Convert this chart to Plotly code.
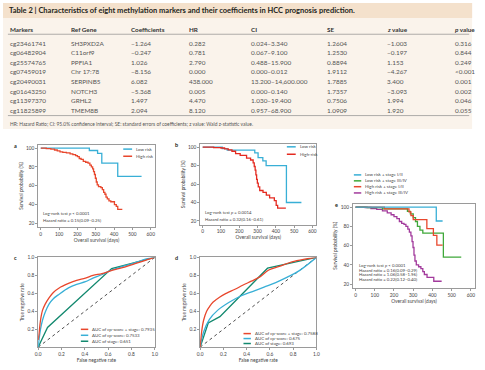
import plotly.graph_objects as go

W, H = 485, 370

# ---------------- Table data ----------------
table_title = "Table 2 | Characteristics of eight methylation markers and their coefficients in HCC prognosis prediction."
headers = ["Markers", "Ref Gene", "Coefficients", "HR", "CI", "SE", "<i>z</i> value", "<i>p</i> value"]
markers = ["cg23461741", "cg06482904", "cg25574765", "cg07459019", "cg20490031", "cg01643250", "cg11397370", "cg11825899"]
ref_genes = ["SH3PXD2A", "C11orf9", "PPFIA1", "Chr 17:78", "SERPINB5", "NOTCH3", "GRHL2", "TMEM8B"]
coefficients = ["−1.264", "−0.247", "1.026", "−8.156", "6.082", "−5.368", "1.497", "2.094"]
hazard_ratios = ["0.282", "0.781", "2.790", "0.000", "438.000", "0.005", "4.470", "8.120"]
conf_intervals = ["0.024–3.340", "0.067–9.100", "0.488–15.900", "0.000–0.012", "13.200–14,600.000", "0.000–0.140", "1.030–19.400", "0.957–68.900"]
std_errors = ["1.2604", "1.2530", "0.8894", "1.9112", "1.7885", "1.7357", "0.7506", "1.0909"]
z_values = ["−1.003", "−0.197", "1.153", "−4.267", "3.400", "−3.093", "1.994", "1.920"]
p_values = ["0.316", "0.844", "0.249", "&lt;0.001", "0.001", "0.002", "0.046", "0.055"]
footnote = "HR: Hazard Ratio; CI: 95.0% confidence interval; SE: standard errors of coefficients; z value: Wald z-statistic value."

# ---------------- Kaplan-Meier data (days, survival %) ----------------
a_low_t = [0, 265, 310, 333, 420, 550]
a_low_s = [100, 97.5, 94.5, 84, 70, 70]
a_high_t = [0, 30, 55, 75, 90, 105, 120, 140, 160, 175, 190, 200, 210, 220, 232, 245, 258, 268, 276, 283,
            288, 293, 298, 303, 308, 315, 328, 336, 343, 350, 356, 363, 372, 382, 402, 412, 420, 445]
a_high_s = [100, 99.5, 99, 98, 97, 96, 95.5, 95, 94, 93, 92, 91, 89, 88, 86, 85, 84, 82, 80, 78,
            75, 72, 68, 64, 61, 59, 58, 56, 53, 51, 48, 46, 44, 43, 40, 38, 35, 35]

b_low_t = [0, 107, 134, 285, 303, 329, 347, 458, 540]
b_low_s = [100, 98.3, 96.6, 93.8, 88.6, 85, 80, 40, 40]
b_high_t = [0, 60, 100, 120, 140, 160, 180, 205, 240, 262, 276, 282, 287, 291, 295, 299, 304, 312,
            330, 348, 366, 392, 402, 410, 455]
b_high_s = [100, 99.5, 99, 98, 97, 95.5, 93, 91, 88, 86, 83, 79, 75, 70, 65, 61, 57, 53,
            51, 48, 45, 42, 37, 34, 34]

e_low12_t = [0, 420, 453]
e_low12_s = [100, 85.5, 85.5]
e_low34_t = [0, 60, 140, 270, 285, 300, 312, 322, 335, 350, 457, 550]
e_low34_s = [100, 99.3, 98, 95.5, 93, 89, 85, 80, 76, 73, 48, 48]
e_high12_t = [0, 150, 278, 288, 300, 371, 405, 423, 453]
e_high12_s = [100, 98, 95, 91, 87, 77.5, 70.5, 60.5, 60.5]
e_high34_t = [0, 50, 80, 110, 140, 165, 185, 200, 215, 228, 240, 252, 262, 272, 280, 288, 294, 299,
              304, 309, 316, 328, 340, 350, 358, 372, 407, 448]
e_high34_s = [100, 99.5, 98.5, 97.5, 96, 94, 92, 90, 88, 85, 83, 82, 80, 77, 74, 70, 64, 58,
              50, 44, 40, 38, 36, 33, 30, 27, 23, 23]

# ---------------- ROC data ----------------
c_comb_x = [0, 0.008, 0.02, 0.037, 0.06, 0.093, 0.13, 0.18, 0.26, 0.33, 0.405, 0.47, 0.547, 0.62, 0.69, 0.76, 0.83, 0.9, 0.95, 1.0]
c_comb_y = [0.08, 0.16, 0.3, 0.41, 0.48, 0.55, 0.61, 0.66, 0.71, 0.745, 0.77, 0.8, 0.82, 0.85, 0.875, 0.9, 0.93, 0.96, 0.98, 1.0]
c_cp_x = [0, 0.008, 0.02, 0.037, 0.06, 0.093, 0.13, 0.18, 0.26, 0.33, 0.405, 0.47, 0.55, 0.63, 0.7, 0.78, 0.85, 0.92, 1.0]
c_cp_y = [0, 0.09, 0.2, 0.3, 0.39, 0.48, 0.54, 0.59, 0.66, 0.7, 0.73, 0.77, 0.81, 0.86, 0.89, 0.92, 0.95, 0.98, 1.0]
c_stage_x = [0, 0.08, 0.63, 1.0]
c_stage_y = [0, 0.22, 0.875, 1.0]

d_comb_x = [0, 0.014, 0.03, 0.056, 0.08, 0.11, 0.17, 0.225, 0.3, 0.366, 0.44, 0.51, 0.59, 0.68, 0.79, 0.9, 1.0]
d_comb_y = [0, 0.18, 0.3, 0.4, 0.45, 0.5, 0.56, 0.6, 0.645, 0.69, 0.735, 0.78, 0.86, 0.9, 0.95, 0.98, 1.0]
d_cp_x = [0, 0.03, 0.08, 0.15, 0.25, 0.35, 0.45, 0.55, 0.65, 0.75, 0.85, 1.0]
d_cp_y = [0, 0.17, 0.31, 0.41, 0.5, 0.57, 0.62, 0.67, 0.72, 0.78, 0.85, 1.0]
d_stage_x = [0, 0.07, 0.17, 0.58, 1.0]
d_stage_y = [0, 0.27, 0.34, 0.88, 1.0]

diag = [0, 1]

km_ticks = [20, 40, 60, 80, 100]
day_ticks = [0, 100, 200, 300, 400, 500, 600]
roc_x_ticks = [0, 0.2, 0.4, 0.6, 0.8, 1.0]
roc_y_ticks = [0.2, 0.4, 0.6, 0.8, 1.0]

# ---------------- styling ----------------
FONT = "Lato"
BLUE = "#38afd6"
RED_A = "#e8472d"
RED_B = "#e42a20"
GREEN = "#3fa83a"
PURPLE = "#a23a9c"
TEAL = "#13896f"
FRAME = "#9a9a9a"
TXT = "#444444"


def px_x(px):
    return px / W


def px_y(py):
    return 1 - py / H


fig = go.Figure()


def add_line(x, y, color, axis, shape="linear", width=1.3, dash="solid"):
    fig.add_trace(go.Scatter(x=x, y=y, mode="lines", line=dict(color=color, width=width, shape=shape, dash=dash),
                             xaxis="x" + axis, yaxis="y" + axis, showlegend=False, hoverinfo="skip"))


# panel a
add_line(a_low_t, a_low_s, BLUE, "", "hv")
add_line(a_high_t, a_high_s, RED_A, "", "hv")
# panel b
add_line(b_low_t, b_low_s, BLUE, "2", "hv")
add_line(b_high_t, b_high_s, RED_B, "2", "hv")
# panel e
add_line(e_high34_t, e_high34_s, PURPLE, "3", "hv")
add_line(e_low34_t, e_low34_s, GREEN, "3", "hv")
add_line(e_high12_t, e_high12_s, RED_A, "3", "hv")
add_line(e_low12_t, e_low12_s, BLUE, "3", "hv")
# panel c
add_line(diag, diag, "#222222", "4", width=0.8, dash="dot")
add_line(c_stage_x, c_stage_y, TEAL, "4")
add_line(c_cp_x, c_cp_y, BLUE, "4", "spline")
add_line(c_comb_x, c_comb_y, RED_A, "4", "spline")
# panel d
add_line(diag, diag, "#222222", "5", width=0.8, dash="dot")
add_line(d_stage_x, d_stage_y, TEAL, "5")
add_line(d_cp_x, d_cp_y, BLUE, "5", "spline")
add_line(d_comb_x, d_comb_y, RED_A, "5", "spline")

tickfont = dict(family=FONT, size=4.8, color=TXT)
titlefont = dict(family=FONT, size=4.8, color=TXT)


def axis_common(**kw):
    d = dict(showline=True, mirror=True, linecolor=FRAME, linewidth=0.8, ticks="outside", ticklen=2,
             tickcolor=FRAME, tickwidth=0.6, showgrid=False, zeroline=False, tickfont=tickfont)
    d.update(kw)
    return d


layout = dict(
    width=W, height=H, margin=dict(l=0, r=0, t=0, b=0),
    paper_bgcolor="white", plot_bgcolor="white", showlegend=False,
    font=dict(family=FONT, color=TXT),
)

# KM axes
km_panels = [("", (35.7, 154), (143, 226)), ("2", (200, 318), (142, 223.5)), ("3", (355, 479), (202.3, 287.3))]
for ax, (x0, x1), (y0, y1) in km_panels:
    layout["xaxis" + ax] = axis_common(domain=[px_x(x0), px_x(x1)], range=[-14, 622], tickvals=day_ticks,
                                      title=dict(text="Overall survival (days)", font=titlefont, standoff=2),
                                      anchor="y" + ax)
    layout["yaxis" + ax] = axis_common(domain=[px_y(y1), px_y(y0)], range=[16, 103.5], tickvals=km_ticks,
                                      title=dict(text="Survival probability (%)", font=titlefont, standoff=2),
                                      anchor="x" + ax)

# ROC axes
roc_panels = [("4", (35.7, 154), (256.5, 347)), ("5", (200, 318), (256.5, 347))]
for ax, (x0, x1), (y0, y1) in roc_panels:
    layout["xaxis" + ax] = axis_common(domain=[px_x(x0), px_x(x1)], range=[0, 1], tickvals=roc_x_ticks,
                                      tickformat=".1f",
                                      title=dict(text="False negative rate", font=titlefont, standoff=2),
                                      anchor="y" + ax)
    layout["yaxis" + ax] = axis_common(domain=[px_y(y1), px_y(y0)], range=[0, 1], tickvals=roc_y_ticks,
                                      tickformat=".1f",
                                      title=dict(text="True negative rate", font=titlefont, standoff=2),
                                      anchor="x" + ax)

fig.update_layout(**layout)

shapes = []
annots = []

# ---------------- table ----------------
shapes.append(dict(type="rect", xref="paper", yref="paper", x0=0, x1=px_x(476), y0=px_y(127), y1=px_y(0),
                   fillcolor="#faf3eb", line=dict(width=0), layer="below"))
shapes.append(dict(type="rect", xref="paper", yref="paper", x0=0, x1=px_x(476), y0=px_y(15), y1=px_y(0),
                   fillcolor="#f4e1cc", line=dict(width=0), layer="below"))
for yy in (31.5, 113.5):
    shapes.append(dict(type="line", xref="paper", yref="paper", x0=px_x(5), x1=px_x(473), y0=px_y(yy), y1=px_y(yy),
                       line=dict(color="#8c8c8c", width=0.7)))

annots.append(dict(text="<b>" + table_title + "</b>", x=px_x(4), y=px_y(7.5), xref="paper", yref="paper",
                   xanchor="left", yanchor="middle", showarrow=False,
                   font=dict(family=FONT, size=7.5, color="#231f20")))
col_x = [5, 67, 128, 187, 250, 327, 388, 457]
for cx, h in zip(col_x, headers):
    annots.append(dict(text="<b>" + h + "</b>", x=px_x(cx), y=px_y(26.5), xref="paper", yref="paper",
                       xanchor="left", yanchor="middle", showarrow=False,
                       font=dict(family=FONT, size=6.3, color="#333333")))
columns = [markers, ref_genes, coefficients, hazard_ratios, conf_intervals, std_errors, z_values, p_values]
row_y0, row_dy = 40.5, 9.65
for ci_, (cx, col) in enumerate(zip(col_x, columns)):
    for ri, val in enumerate(col):
        annots.append(dict(text=val, x=px_x(cx), y=px_y(row_y0 + ri * row_dy), xref="paper", yref="paper",
                           xanchor="left", yanchor="middle", showarrow=False,
                           font=dict(family=FONT, size=6.4, color="#555555")))
annots.append(dict(text=footnote, x=px_x(5), y=px_y(121.5), xref="paper", yref="paper", xanchor="left",
                   yanchor="middle", showarrow=False, font=dict(family=FONT, size=4.9, color="#555555")))

# ---------------- panel labels ----------------
for lab, lx, ly in [("a", 13, 144), ("b", 176, 143), ("e", 338, 204), ("c", 13, 257), ("d", 176, 257)]:
    annots.append(dict(text="<b>" + lab + "</b>", x=px_x(lx), y=px_y(ly), xref="paper", yref="paper",
                       xanchor="center", yanchor="middle", showarrow=False,
                       font=dict(family=FONT, size=5.5, color="#231f20")))

# ---------------- legends (keys + text) ----------------
legend_font = dict(family=FONT, size=4.4, color=TXT)


def legend_entry(kx0, kx1, ky, color, text):
    shapes.append(dict(type="line", xref="paper", yref="paper", x0=px_x(kx0), x1=px_x(kx1), y0=px_y(ky), y1=px_y(ky),
                       line=dict(color=color, width=1.5)))
    annots.append(dict(text=text, x=px_x(kx1 + 2), y=px_y(ky), xref="paper", yref="paper", xanchor="left",
                       yanchor="middle", showarrow=False, font=legend_font))


legend_entry(122, 131, 147.3, BLUE, "Low risk")
legend_entry(122, 131, 154.5, RED_A, "High risk")
legend_entry(288, 297, 145, BLUE, "Low risk")
legend_entry(288, 297, 152.5, RED_B, "High-risk")
legend_entry(356, 363.5, 173.3, BLUE, "Low risk + stage I/II")
legend_entry(356, 363.5, 179.3, GREEN, "Low risk + stage III/IV")
legend_entry(356, 363.5, 185.2, RED_A, "High risk + stage I/II")
legend_entry(356, 363.5, 191.5, PURPLE, "High risk + stage III/IV")
legend_entry(79, 86.5, 329, RED_A, "AUC of cp-score + stage: 0.7935")
legend_entry(79, 86.5, 335, BLUE, "AUC of cp-score: 0.7533")
legend_entry(79, 86.5, 341, TEAL, "AUC of stage: 0.651")
legend_entry(244, 251.5, 333.3, RED_A, "AUC of cp-score + stage: 0.7588")
legend_entry(244, 251.5, 338.3, BLUE, "AUC of cp-score: 0.675")
legend_entry(244, 251.5, 343.3, TEAL, "AUC of stage: 0.693")

# ---------------- statistics text ----------------
stat_font = dict(family=FONT, size=4.3, color=TXT)


def stat_lines(x, ys, texts):
    for yy, t in zip(ys, texts):
        annots.append(dict(text=t, x=px_x(x), y=px_y(yy), xref="paper", yref="paper", xanchor="left",
                           yanchor="middle", showarrow=False, font=stat_font))


stat_lines(38.5, [212, 219.5], ["Log-rank test <i>p</i> &lt; 0.0001", "Hazard ratio = 0.15(0.09–0.25)"])
stat_lines(203, [211.5, 218.5], ["Log-rank test <i>p</i> = 0.0014", "Hazard ratio = 0.32(0.16–0.61)"])
stat_lines(359.5, [265, 269.6, 274.2, 278.8], ["Log-rank test <i>p</i> &lt; 0.0001", "Hazard ratio = 0.16(0.09–0.29)",
                                               "Hazard ratio = 1.06(0.58–1.96)", "Hazard ratio = 0.22(0.12–0.40)"])

fig.update_layout(shapes=shapes, annotations=annots)
fig.write_html("out.html", config={"displayModeBar": False},
               post_script="document.body.style.margin='0px';document.body.style.overflow='hidden';")
